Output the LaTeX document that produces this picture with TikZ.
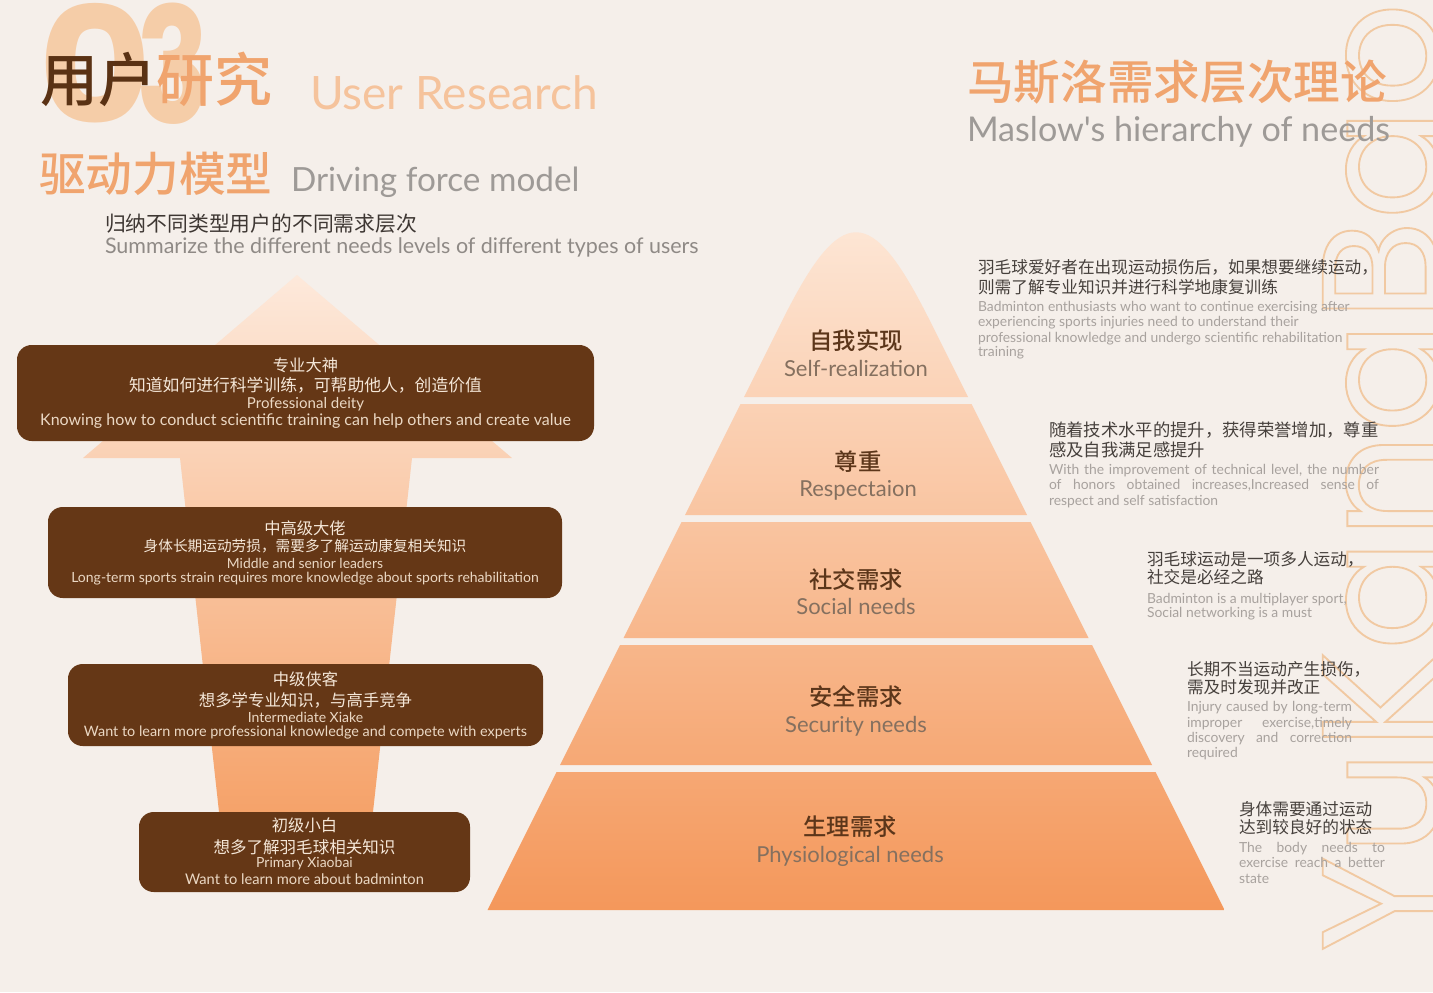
\documentclass[tikz,border=0pt]{standalone}
\usepackage{graphicx}
\usepackage{fontspec}
\newfontfamily\cjk{Noto Sans CJK SC}
\newfontfamily\cjkm{Noto Sans CJK SC Medium}
\newfontfamily\lat{Lato}
\newfontfamily\pop{Poppins}
\newcommand\fsz[1]{\fontsize{#1}{#1}\selectfont}
\definecolor{bgc}{HTML}{F5EFEA}
\definecolor{peachnum}{HTML}{F5CDA8}
\definecolor{darkbrown}{HTML}{5A3214}
\definecolor{orangetitle}{HTML}{F0A46E}
\definecolor{lightorange}{HTML}{F5C39C}
\definecolor{graytitle}{HTML}{9E9A97}
\definecolor{subdark}{HTML}{3E3733}
\definecolor{subgray}{HTML}{8F8A86}
\definecolor{boxc}{HTML}{653716}
\definecolor{boxtext}{HTML}{F5E7D8}
\definecolor{boxtexten}{HTML}{EBD8C4}
\definecolor{tiercn}{HTML}{5C361A}
\definecolor{tieren}{HTML}{85705F}
\definecolor{rtcn}{HTML}{46403C}
\definecolor{rten}{HTML}{A8A29E}
\definecolor{wmc}{HTML}{F1C9A2}
\definecolor{arrtop}{HTML}{FDE9DB}
\definecolor{arrbot}{HTML}{F5A066}
\definecolor{pyrtop}{HTML}{FDE6D5}
\definecolor{pyrmid}{HTML}{F9C7A1}
\definecolor{pyrbot}{HTML}{F4975A}
\begin{document}
\begin{tikzpicture}[x=0.75pt,y=-0.75pt,
  every node/.style={inner sep=0pt,outer sep=0pt},
  box/.style={fill=boxc,rounded corners=11pt},
  boxcn/.style={text=boxtext,anchor=center},
  boxen/.style={text=boxtexten,anchor=base},
  rcn/.style={text=rtcn,anchor=west,font=\cjk\fsz{12.5pt}},
  ren/.style={text=rten,anchor=base west,font=\lat\fsz{10.4pt}},
  tcn/.style={text=tiercn,anchor=center,font=\cjkm\fsz{17.5pt}},
  ten/.style={text=tieren,anchor=base,font=\lat\fsz{16.5pt}}]
\useasboundingbox (0,0) rectangle (1433,992);
\fill[bgc] (0,0) rectangle (1433,992);

% watermark
\begin{scope}
\clip (0,0) rectangle (1433,992);
\node[rotate=90,anchor=base west,text=wmc] (wm) at (1438,952)
  {\pop\fsz{124pt}\special{pdf:literal direct 1 Tr 1.4 w 0.945 0.788 0.635 RG}YuKangBao\special{pdf:literal direct 0 Tr}};
\end{scope}

% big 03
\node[anchor=base,text=peachnum,font=\pop\bfseries\fsz{121pt}] (n0) at (95,123) {\scalebox{1.08}[1]{0}};
\node[anchor=base,text=peachnum,font=\pop\bfseries\fsz{121pt}] (n3) at (173,123) {\scalebox{0.75}[1]{3}};

% titles left
\node[anchor=west,font=\cjkm\fsz{43.5pt}] (t1) at (40,79) {{\color{darkbrown}用户}{\color{orangetitle}研究}};
\node[anchor=base west,text=lightorange,font=\lat\fsz{34.5pt}] (t1en) at (310,109) {User Research};
\node[anchor=west,text=orangetitle,font=\cjkm\fsz{35pt}] (t2) at (39,173.5) {驱动力模型};
\node[anchor=base west,text=graytitle,font=\lat\fsz{25pt}] (t2en) at (291,191) {Driving force model};
\node[anchor=west,text=subdark,font=\cjk\fsz{15.6pt}] (s1) at (105,224) {归纳不同类型用户的不同需求层次};
\node[anchor=base west,text=subgray,font=\lat\fsz{16.1pt}] (s1en) at (105,253) {Summarize the different needs levels of different types of users};

% titles right
\node[anchor=west,text=orangetitle,font=\cjkm\fsz{35pt}] (t3) at (967,82.5) {马斯洛需求层次理论};
\node[anchor=base west,text=graytitle,font=\lat\fsz{25.6pt}] (t3en) at (967,141) {Maslow's hierarchy of needs};

% arrow
\shade[top color=arrtop,bottom color=arrbot]
  (297,275) -- (512,458) -- (412,458) -- (371,830) -- (221,830) -- (180,458) -- (83,458) -- cycle;

% boxes
\node[box,minimum width=432.75pt,minimum height=72pt] (b1) at (305.5,393) {};
\node[box,minimum width=385.5pt,minimum height=68.25pt] (b2) at (305,552.5) {};
\node[box,minimum width=356.25pt,minimum height=61.5pt] (b3) at (305.5,705) {};
\node[box,minimum width=248.25pt,minimum height=60pt] (b4) at (304.5,852) {};

\node[boxcn,font=\cjk\fsz{12.2pt}] (b1a) at (305.5,365) {专业大神};
\node[boxcn,font=\cjk\fsz{12.6pt}] (b1b) at (305.5,385) {知道如何进行科学训练，可帮助他人，创造价值};
\node[boxen,font=\lat\fsz{11.3pt}] (b1c) at (305.5,408) {Professional deity};
\node[boxen,font=\lat\fsz{12pt}] (b1d) at (305.5,425) {Knowing how to conduct scientific training can help others and create value};

\node[boxcn,font=\cjk\fsz{12.2pt}] (b2a) at (305,528) {中高级大佬};
\node[boxcn,font=\cjk\fsz{11pt}] (b2b) at (305,546.5) {身体长期运动劳损，需要多了解运动康复相关知识};
\node[boxen,font=\lat\fsz{10.4pt}] (b2c) at (305,568) {Middle and senior leaders};
\node[boxen,font=\lat\fsz{10.5pt}] (b2d) at (305,582) {Long-term sports strain requires more knowledge about sports rehabilitation};

\node[boxcn,font=\cjk\fsz{12.2pt}] (b3a) at (305.5,679.5) {中级侠客};
\node[boxcn,font=\cjk\fsz{12.3pt}] (b3b) at (305.5,700) {想多学专业知识，与高手竞争};
\node[boxen,font=\lat\fsz{10.5pt}] (b3c) at (305.5,722) {Intermediate Xiake};
\node[boxen,font=\lat\fsz{10.8pt}] (b3d) at (305.5,736) {Want to learn more professional knowledge and compete with experts};

\node[boxcn,font=\cjk\fsz{12.2pt}] (b4a) at (304.5,825.5) {初级小白};
\node[boxcn,font=\cjk\fsz{12.4pt}] (b4b) at (304.5,847) {想多了解羽毛球相关知识};
\node[boxen,font=\lat\fsz{10.5pt}] (b4c) at (304.5,867) {Primary Xiaobai};
\node[boxen,font=\lat\fsz{11pt}] (b4d) at (304.5,884) {Want to learn more about badminton};

% pyramid
\begin{scope}
\clip (744,397) -- (782.5,320) .. controls (841,203) and (871,203) .. (929.5,320) -- (968,397) -- cycle
      (740.5,404) -- (971.5,404) -- (1027,515) -- (685,515) -- cycle
      (681.5,522) -- (1030.5,522) -- (1088.5,638) -- (623.5,638) -- cycle
      (620,645) -- (1092,645) -- (1152,765) -- (560,765) -- cycle
      (556.5,772) -- (1155.5,772) -- (1224.5,910) -- (487.5,910) -- cycle;
\shade[top color=pyrtop,middle color=pyrmid,bottom color=pyrbot] (480,225) rectangle (1235,915);
\end{scope}

\node[tcn] (p1) at (856,341) {自我实现};
\node[ten] (p1en) at (856,376) {Self-realization};
\node[tcn] (p2) at (858,462) {尊重};
\node[ten] (p2en) at (858,496) {Respectaion};
\node[tcn] (p3) at (856,580) {社交需求};
\node[ten] (p3en) at (856,614) {Social needs};
\node[tcn] (p4) at (856,697) {安全需求};
\node[ten] (p4en) at (856,732) {Security needs};
\node[tcn] (p5) at (850,827) {生理需求};
\node[ten] (p5en) at (850,862) {Physiological needs};

% right texts
\node[rcn] (r1a) at (978,267.5) {羽毛球爱好者在出现运动损伤后，如果想要继续运动，};
\node[rcn] (r1b) at (978,287.5) {则需了解专业知识并进行科学地康复训练};
\node[ren] (r1c) at (978,311) {Badminton enthusiasts who want to continue exercising after};
\node[ren] (r1d) at (978,326) {experiencing sports injuries need to understand their};
\node[ren] (r1e) at (978,342) {professional knowledge and undergo scientific rehabilitation};
\node[ren] (r1f) at (978,356) {training};

\node[rcn,font=\cjk\fsz{13pt}] (r2a) at (1049,430.5) {随着技术水平的提升，获得荣誉增加，尊重};
\node[rcn,font=\cjk\fsz{13pt}] (r2b) at (1049,449.5) {感及自我满足感提升};
\node[ren] (r2c) at (1049,474) {\makebox[247.5pt][s]{With the improvement of technical level, the number}};
\node[ren] (r2d) at (1049,489) {\makebox[247.5pt][s]{of honors obtained increases,Increased sense of}};
\node[ren] (r2e) at (1049,505) {respect and self satisfaction};

\node[rcn] (r3a) at (1147,559.5) {羽毛球运动是一项多人运动，};
\node[rcn] (r3b) at (1147,577.5) {社交是必经之路};
\node[ren] (r3c) at (1147,603) {Badminton is a multiplayer sport,};
\node[ren] (r3d) at (1147,617) {Social networking is a must};

\node[rcn] (r4a) at (1187,669.5) {长期不当运动产生损伤，};
\node[rcn] (r4b) at (1187,687.5) {需及时发现并改正};
\node[ren] (r4c) at (1187,711) {\makebox[123.75pt][s]{Injury caused by long-term}};
\node[ren] (r4d) at (1187,727) {\makebox[123.75pt][s]{improper exercise,timely}};
\node[ren] (r4e) at (1187,742) {\makebox[123.75pt][s]{discovery and correction}};
\node[ren] (r4f) at (1187,757) {required};

\node[rcn] (r5a) at (1239,809.5) {身体需要通过运动};
\node[rcn] (r5b) at (1239,827.5) {达到较良好的状态};
\node[ren] (r5c) at (1239,852) {\makebox[109.5pt][s]{The body needs to}};
\node[ren] (r5d) at (1239,867) {\makebox[109.5pt][s]{exercise reach a better}};
\node[ren] (r5e) at (1239,883) {state};
\end{tikzpicture}
\end{document}
